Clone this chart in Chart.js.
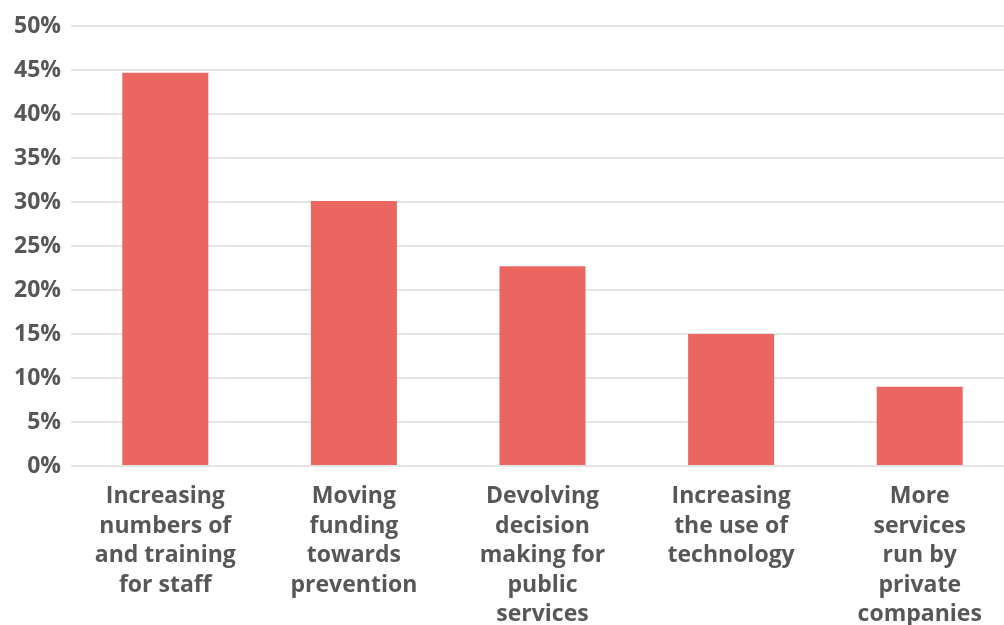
<!DOCTYPE html>
<html>
<head>
<meta charset="utf-8">
<script src="https://cdn.jsdelivr.net/npm/chart.js@4"></script>
<style>
  html, body { margin: 0; padding: 0; overflow: hidden; background: #fff; }
  #wrap { width: 1014px; height: 627px; }
</style>
</head>
<body>
<div id="wrap"><canvas id="Bars"></canvas></div>
<script>
var categories = [
  ['Increasing', 'numbers of', 'and training', 'for staff'],
  ['Moving', 'funding', 'towards', 'prevention'],
  ['Devolving', 'decision', 'making for', 'public', 'services'],
  ['Increasing', 'the use of', 'technology'],
  ['More', 'services', 'run by', 'private', 'companies']
];
var shares = [44.7, 30.1, 22.7, 15.0, 9.0];
var yTicks = [0, 5, 10, 15, 20, 25, 30, 35, 40, 45, 50];

var textGrey = '#575757';
var labelFont = { family: "'Open Sans', 'Noto Sans', sans-serif", size: 23, weight: 'bold', lineHeight: '29.5px' };

var ctx = document.getElementById('Bars').getContext('2d');

var Bars = new Chart(ctx, {
  type: 'bar',
  data: {
    labels: categories,
    datasets: [{
      data: shares,
      backgroundColor: '#ec6661',
      borderWidth: 0,
      barPercentage: 0.456,
      categoryPercentage: 1
    }]
  },
  options: {
    responsive: true,
    maintainAspectRatio: false,
    animation: false,
    layout: { padding: { top: 26, left: 0, right: 0, bottom: 0 } },
    plugins: {
      legend: { display: false },
      tooltip: { enabled: false }
    },
    scales: {
      x: {
        // fixed axis height so the plot keeps its bottom at the 0% line
        afterFit: function (scale) { scale.height = 161; },
        grid: { display: false, drawTicks: false },
        border: { display: false },
        ticks: {
          color: textGrey,
          font: labelFont,
          padding: 16,
          maxRotation: 0,
          autoSkip: false
        }
      },
      y: {
        min: 0,
        max: 50,
        afterBuildTicks: function (scale) {
          scale.ticks = yTicks.map(function (v) { return { value: v }; });
        },
        afterFit: function (scale) { scale.width = 71; },
        grid: { color: '#e4e4e4', lineWidth: 2, drawTicks: false },
        border: { display: false },
        ticks: {
          color: textGrey,
          font: labelFont,
          padding: 10,
          callback: function (v) { return v + '%'; }
        }
      }
    }
  }
});
</script>
</body>
</html>
